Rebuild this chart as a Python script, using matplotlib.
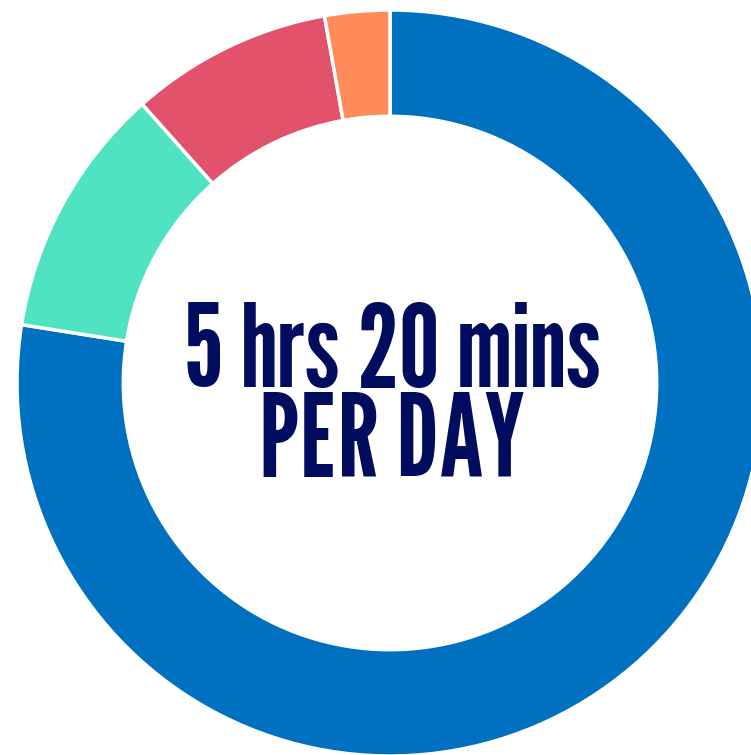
import matplotlib.pyplot as plt
from matplotlib import font_manager

# Daily minutes by activity (total 5 hrs 20 mins = 320 mins)
categories = ["Main", "Second", "Third", "Fourth"]
minutes = [248, 35, 28, 9]
colors = ["#0071c1", "#50e3c2", "#e2526a", "#ff8c5a"]
label = "5 hrs 20 mins\nPER DAY"

names = {f.name for f in font_manager.fontManager.ttflist}
family = ["League Gothic", "DejaVu Sans"] if "League Gothic" in names else ["DejaVu Sans"]

fig = plt.figure(figsize=(7.51, 7.55), dpi=100)
ax = fig.add_axes([0, 0, 1, 1])
ax.pie(minutes, colors=colors, startangle=90, counterclock=False, radius=1.0,
       wedgeprops=dict(width=0.285, edgecolor="white", linewidth=2.5))
ax.set_aspect("auto")
scale = 373.0
ax.set_xlim(-390 / scale, (751 - 390) / scale)
ax.set_ylim(-(755 - 383) / scale, 383 / scale)
ax.axis("off")

# centre label, baseline of last line sits at the bottom of "PER DAY"
ax.text(0.005, -0.252, label, ha="center", va="baseline", multialignment="center",
        fontsize=83, linespacing=0.8, family=family, color="#000c5e")

fig.savefig("out.png", dpi=100)
